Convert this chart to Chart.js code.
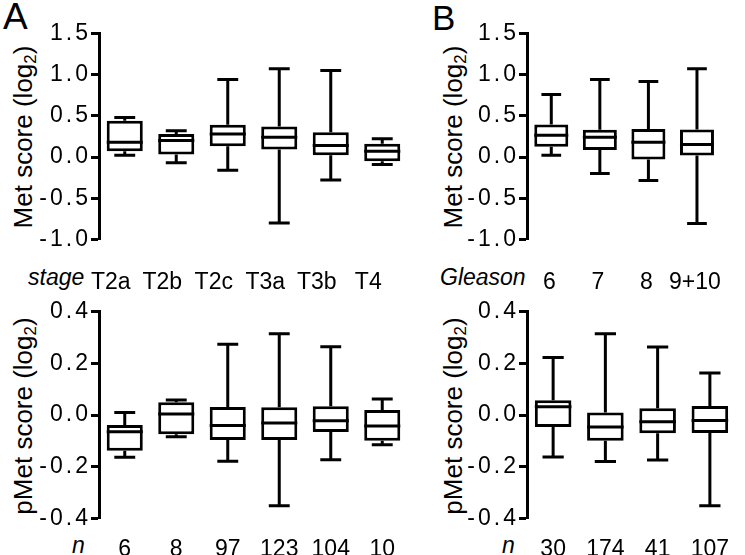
<!DOCTYPE html>
<html>
<head>
<meta charset="utf-8">
<script src="https://cdn.jsdelivr.net/npm/chart.js@4.4.1/dist/chart.umd.min.js"></script>
<style>
body { margin: 0; background: #fff; width: 745px; height: 555px; position: relative; overflow: hidden;
       font-family: 'Liberation Sans', Arial, sans-serif; color: #000; }
canvas { position: absolute; }
.t { position: absolute; white-space: nowrap; line-height: 1; }
.rot { position: absolute; width: 240px; text-align: center; font-size: 26px; line-height: 1;
       transform: rotate(-90deg); white-space: nowrap; }
.rot sub { font-size: 0.65em; vertical-align: -0.25em; line-height: 0; }
</style>
</head>
<body>
<div class="t" style="left:3px;top:-2px;font-size:37px">A</div>
<div class="t" style="left:432px;top:0px;font-size:35px">B</div>

<div class="rot" style="left:-97px;top:124px">Met score (log<sub>2</sub>)</div>
<div class="rot" style="left:-97px;top:403px">pMet score (log<sub>2</sub>)</div>
<div class="rot" style="left:333px;top:124px">Met score (log<sub>2</sub>)</div>
<div class="rot" style="left:333px;top:403px">pMet score (log<sub>2</sub>)</div>

<div class="t" style="left:28px;top:265.5px;font-size:23px;font-style:italic">stage</div>
<div class="t" style="left:440px;top:265.5px;font-size:23px;font-style:italic">Gleason</div>
<div class="t" style="left:72px;top:533.5px;font-size:23px;font-style:italic">n</div>
<div class="t" style="left:502px;top:533.5px;font-size:23px;font-style:italic">n</div>

<canvas id="aTop" width="420" height="300" style="left:0;top:0"></canvas>
<canvas id="aBot" width="420" height="260" style="left:0;top:295px"></canvas>
<canvas id="bTop" width="315" height="300" style="left:430px;top:0"></canvas>
<canvas id="bBot" width="315" height="260" style="left:430px;top:295px"></canvas>

<script>
// categories
const stages = ['T2a', 'T2b', 'T2c', 'T3a', 'T3b', 'T4'];
const stageN = ['6', '8', '97', '123', '104', '10'];
const gleason = ['6', '7', '8', '9+10'];
const gleasonN = ['30', '174', '41', '107'];

// Met score by stage (whisker low, Q1, median, Q3, whisker high)
const metStageLo  = [0.02, -0.07, -0.16, -0.80, -0.28, -0.09];
const metStageQ1  = [0.07, 0.03, 0.13, 0.09, 0.02, -0.05];
const metStageMed = [0.18, 0.20, 0.28, 0.24, 0.14, 0.07];
const metStageQ3  = [0.44, 0.28, 0.39, 0.37, 0.30, 0.16];
const metStageHi  = [0.48, 0.32, 0.94, 1.07, 1.05, 0.22];

// pMet score by stage
const pmetStageLo  = [-0.164, -0.084, -0.179, -0.351, -0.173, -0.115];
const pmetStageQ1  = [-0.138, -0.075, -0.097, -0.097, -0.066, -0.100];
const pmetStageMed = [-0.065, 0.004, -0.041, -0.031, -0.022, -0.043];
const pmetStageQ3  = [-0.039, 0.049, 0.031, 0.030, 0.034, 0.019];
const pmetStageHi  = [0.010, 0.058, 0.274, 0.315, 0.264, 0.062];

// Met score by Gleason
const metGlLo  = [0.02, -0.20, -0.285, -0.805];
const metGlQ1  = [0.125, 0.085, -0.03, 0.017];
const metGlMed = [0.265, 0.24, 0.18, 0.153];
const metGlQ3  = [0.395, 0.33, 0.34, 0.335];
const metGlHi  = [0.757, 0.94, 0.915, 1.07];

// pMet score by Gleason
const pmetGlLo  = [-0.163, -0.18, -0.174, -0.351];
const pmetGlQ1  = [-0.046, -0.10, -0.071, -0.07];
const pmetGlMed = [0.032, -0.046, -0.026, -0.021];
const pmetGlQ3  = [0.057, 0.01, 0.026, 0.035];
const pmetGlHi  = [0.223, 0.315, 0.263, 0.163];

const FONT = "'Liberation Sans', Arial, sans-serif";

// whiskers, caps and median lines drawn on top of the floating bars
const whiskers = {
    id: 'whiskers',
    afterDatasetsDraw(chart) {
        const ds = chart.data.datasets[0];
        const meta = chart.getDatasetMeta(0);
        const y = chart.scales.y;
        const ctx = chart.ctx;
        ctx.save();
        ctx.strokeStyle = '#000';
        ctx.lineWidth = 3;
        meta.data.forEach((bar, i) => {
            const x = bar.x, w = bar.width;
            const cap = w * 0.29;
            const yLo = y.getPixelForValue(ds.lo[i]);
            const yHi = y.getPixelForValue(ds.hi[i]);
            const yQ1 = y.getPixelForValue(ds.data[i][0]);
            const yQ3 = y.getPixelForValue(ds.data[i][1]);
            const yMed = y.getPixelForValue(ds.med[i]);
            ctx.beginPath();
            ctx.moveTo(x, yQ3); ctx.lineTo(x, yHi);
            ctx.moveTo(x - cap, yHi); ctx.lineTo(x + cap, yHi);
            ctx.moveTo(x, yQ1); ctx.lineTo(x, yLo);
            ctx.moveTo(x - cap, yLo); ctx.lineTo(x + cap, yLo);
            ctx.moveTo(x - w / 2, yMed); ctx.lineTo(x + w / 2, yMed);
            ctx.stroke();
        });
        ctx.restore();
        // y tick labels (z = 1) come after this, they are spaced wider in the figure
        ctx.letterSpacing = '3px';
    },
    afterDraw(chart) {
        chart.ctx.letterSpacing = '0px';
    }
};

function boxChart(id, labels, lo, q1, med, q3, hi, yMin, yMax, step, lay) {
    return new Chart(document.getElementById(id), {
        type: 'bar',
        data: {
            labels: labels,
            datasets: [{
                data: q1.map((v, i) => [v, q3[i]]),
                lo: lo, med: med, hi: hi,
                backgroundColor: '#fff',
                borderColor: '#000',
                borderWidth: 3,
                borderSkipped: false,
                categoryPercentage: 1,
                barPercentage: 0.7
            }]
        },
        options: {
            responsive: false,
            animation: false,
            layout: { padding: { top: lay.top, right: lay.right, bottom: 0, left: 0 } },
            plugins: { legend: { display: false }, tooltip: { enabled: false } },
            scales: {
                x: {
                    grid: { display: false },
                    border: { display: false },
                    ticks: { color: '#000', font: { family: FONT, size: 23 }, padding: lay.xPad,
                             labelOffset: lay.labelOffset || 0, maxRotation: 0, autoSkip: false },
                    afterFit(s) { s.height = lay.xHeight; }
                },
                y: {
                    min: yMin, max: yMax,
                    ticks: { stepSize: step, color: '#000', font: { family: FONT, size: 23 }, padding: 0, z: 1,
                             callback: v => v.toFixed(1) },
                    grid: { drawOnChartArea: false, drawTicks: true, tickLength: 8, tickWidth: 3, tickColor: '#000' },
                    border: { display: true, color: '#000', width: 3 },
                    afterFit(s) { s.width = lay.yWidth; }
                }
            }
        },
        plugins: [whiskers]
    });
}

boxChart('aTop', stages, metStageLo, metStageQ1, metStageMed, metStageQ3, metStageHi, -1, 1.5, 0.5,
    { top: 33.3, right: 12, xHeight: 60.5, xPad: 21, yWidth: 99, labelOffset: -14 });
boxChart('aBot', stageN, pmetStageLo, pmetStageQ1, pmetStageMed, pmetStageQ3, pmetStageHi, -0.4, 0.4, 0.2,
    { top: 16.7, right: 12, xHeight: 36.7, xPad: 9.5, yWidth: 99 });
boxChart('bTop', gleason, metGlLo, metGlQ1, metGlMed, metGlQ3, metGlHi, -1, 1.5, 0.5,
    { top: 33.3, right: 9, xHeight: 60.5, xPad: 21, yWidth: 97, labelOffset: -2 });
boxChart('bBot', gleasonN, pmetGlLo, pmetGlQ1, pmetGlMed, pmetGlQ3, pmetGlHi, -0.4, 0.4, 0.2,
    { top: 16.7, right: 9, xHeight: 36.7, xPad: 9.5, yWidth: 97 });
</script>
</body>
</html>
